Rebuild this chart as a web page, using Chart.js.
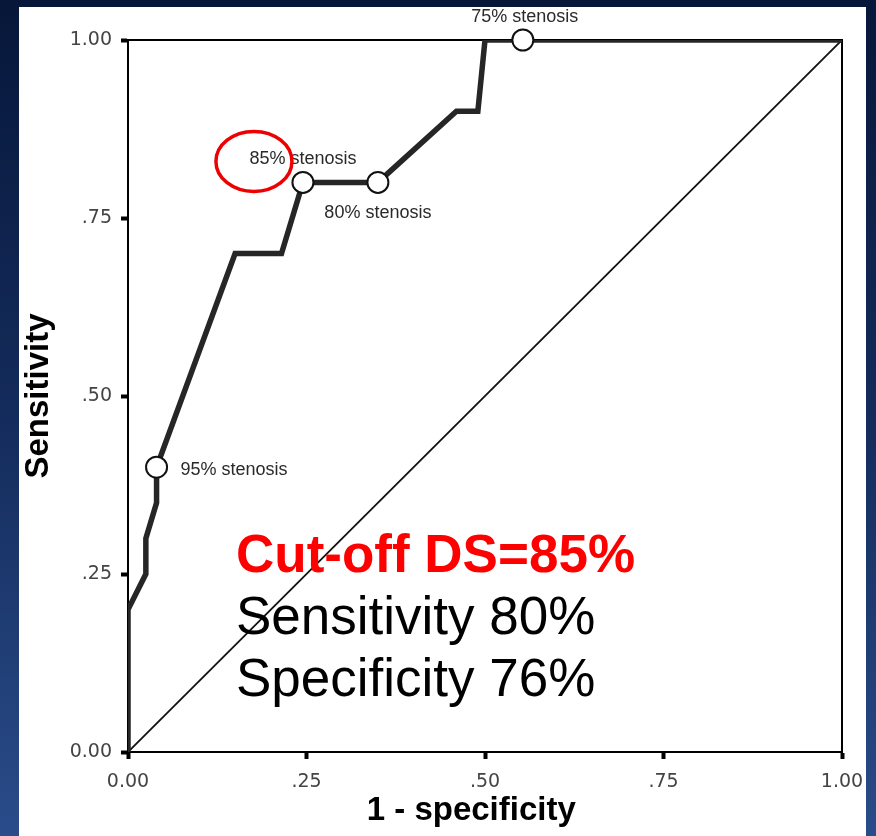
<!DOCTYPE html>
<html>
<head>
<meta charset="utf-8">
<script src="https://cdn.jsdelivr.net/npm/chart.js@4.4.1/dist/chart.umd.min.js"></script>
<style>
  html,body{margin:0;padding:0;}
  body{width:876px;height:836px;overflow:hidden;position:relative;
       background:linear-gradient(to bottom,#07173a 0%,#142c5c 50%,#2a4c8a 100%);}
  #panel{position:absolute;left:19px;top:7px;width:847px;height:829px;background:#fff;}
  .big{position:absolute;left:236px;font-family:"Liberation Sans",Arial,sans-serif;
       font-size:53px;line-height:62px;color:#000;white-space:nowrap;}
  #l1{top:523px;color:#ff0000;font-weight:bold;}
  #l2{top:585px;}
  #l3{top:647px;}
</style>
</head>
<body>
<div id="panel"><canvas id="roc"></canvas></div>
<div class="big" id="l1">Cut-off DS=85%</div>
<div class="big" id="l2">Sensitivity 80%</div>
<div class="big" id="l3">Specificity 76%</div>
<script>
// axis ticks
const tickValues=[0,0.25,0.5,0.75,1];
const tickLabels=["0.00",".25",".50",".75","1.00"];

// ROC curve (1 - specificity, sensitivity)
const rocX=[0,0,0.025,0.025,0.04,0.04,0.15,0.215,0.245,0.35,0.46,0.49,0.50,1.00];
const rocY=[0,0.20,0.25,0.30,0.35,0.40,0.70,0.70,0.80,0.80,0.90,0.90,1.00,1.00];

// chance line
const refX=[0,1];
const refY=[0,1];

// marked cut-offs
const cutX=[0.04,0.245,0.35,0.553];
const cutY=[0.40,0.80,0.80,1.00];
const cutLabels=["95% stenosis","85% stenosis","80% stenosis","75% stenosis"];

const toPts=(xs,ys)=>xs.map((x,i)=>({x:x,y:ys[i]}));

// where each cut-off label sits relative to its marker
const labelPlace=[
    {dx:24,dy:3,align:"left"},
    {dx:0,dy:-23,align:"center"},
    {dx:0,dy:31,align:"center"},
    {dx:2,dy:-23,align:"center"}
];

const framePlugin={
    id:"frame",
    beforeDatasetsDraw(chart){
        const a=chart.chartArea, ctx=chart.ctx;
        ctx.save();
        ctx.strokeStyle="#000";
        ctx.lineWidth=2;
        ctx.strokeRect(a.left,a.top,a.right-a.left,a.bottom-a.top);
        ctx.restore();
    },
    afterDatasetsDraw(chart){
        const ctx=chart.ctx, xs=chart.scales.x, ys=chart.scales.y;
        ctx.save();
        ctx.font='18px "Liberation Sans", Arial, sans-serif';
        ctx.fillStyle="#2a2a2a";
        ctx.textBaseline="middle";
        cutLabels.forEach((t,i)=>{
            const px=xs.getPixelForValue(cutX[i]), py=ys.getPixelForValue(cutY[i]);
            const p=labelPlace[i];
            ctx.textAlign=p.align;
            ctx.fillText(t,px+p.dx,py+p.dy);
        });
        // red circle around "85%"
        const ex=xs.getPixelForValue(cutX[1])-49, ey=ys.getPixelForValue(cutY[1])-21;
        ctx.beginPath();
        ctx.ellipse(ex,ey,38,30,0,0,Math.PI*2);
        ctx.strokeStyle="#ee0000";
        ctx.lineWidth=3.5;
        ctx.stroke();
        ctx.restore();
    }
};

const setTicks=s=>{ s.ticks=tickValues.map(v=>({value:v})); };
const fmt=v=>{ const i=tickValues.indexOf(v); return i>=0?tickLabels[i]:""; };

new Chart(document.getElementById("roc"),{
    type:"line",
    data:{
        datasets:[
            {
                data:toPts(cutX,cutY),
                showLine:false,
                pointRadius:10.5,
                pointBackgroundColor:"#fff",
                pointBorderColor:"#111",
                pointBorderWidth:2,
                clip:false
            },
            {
                data:toPts(rocX,rocY),
                borderColor:"#262626",
                borderWidth:5.5,
                borderJoinStyle:"miter",
                pointRadius:0,
                tension:0
            },
            {
                data:toPts(refX,refY),
                borderColor:"#111",
                borderWidth:1.8,
                pointRadius:0
            }
        ]
    },
    options:{
        responsive:true,
        maintainAspectRatio:false,
        animation:false,
        layout:{padding:{top:33,right:24,left:0,bottom:0}},
        plugins:{legend:{display:false},tooltip:{enabled:false}},
        scales:{
            x:{
                type:"linear",min:0,max:1,
                afterBuildTicks:setTicks,
                afterFit:s=>{s.height=84;s.paddingLeft=0;s.paddingRight=0;},
                grid:{drawOnChartArea:false,drawTicks:true,tickLength:7,tickWidth:4,tickColor:"#000"},
                border:{display:true,color:"#000",width:2},
                ticks:{callback:fmt,padding:12,maxRotation:0,color:"#444",
                       font:{family:'"DejaVu Sans", sans-serif',size:19}},
                title:{display:true,text:"1 - specificity\u00a0\u00a0\u00a0",color:"#000",
                       padding:{top:0,bottom:5},
                       font:{family:'"Liberation Sans", Arial, sans-serif',size:33,weight:"bold"}}
            },
            y:{
                type:"linear",min:0,max:1,
                afterBuildTicks:setTicks,
                afterFit:s=>{s.width=109;},
                grid:{drawOnChartArea:false,drawTicks:true,tickLength:7,tickWidth:4,tickColor:"#000"},
                border:{display:true,color:"#000",width:2},
                ticks:{callback:fmt,padding:9,color:"#444",
                       font:{family:'"DejaVu Sans", sans-serif',size:19}},
                title:{display:true,text:"Sensitivity",color:"#000",
                       padding:{top:0,bottom:0},
                       font:{family:'"Liberation Sans", Arial, sans-serif',size:33,weight:"bold"}}
            }
        }
    },
    plugins:[framePlugin]
});
</script>
</body>
</html>
